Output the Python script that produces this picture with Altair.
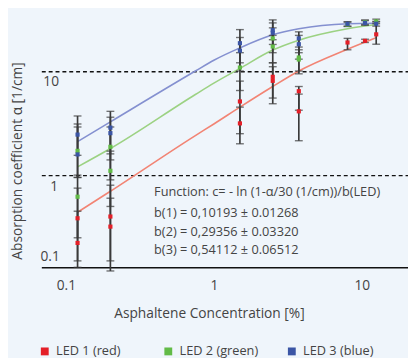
import altair as alt
import pandas as pd

leds = ["LED 1 (red)", "LED 2 (green)", "LED 3 (blue)"]
point_colors = ["#e41f28", "#62bb47", "#3b55a5"]
line_colors = ["#f28474", "#9cd283", "#8490d0"]

# measured points (concentration %, absorption coefficient 1/cm, error bar low/high)
red_conc = [0.12, 0.12, 0.2, 0.2, 1.5, 1.5, 2.5, 2.5, 3.75, 3.75, 8, 10.5, 12.5]
red_alpha = [0.385, 0.223, 0.40, 0.32, 5.1, 3.14, 8.8, 8.05, 6.4, 4.1, 18.8, 19.5, 22.5]
red_low = [0.15, 0.13, 0.15, 0.12, 2.5, 2.0, 5.5, 4.85, 4.2, 2.14, 16.0, 18.8, 18.1]
red_high = [0.75, 0.45, 0.8, 0.6, 8.0, 4.5, 12.0, 11.0, 7.1, 6.0, 20.6, 20.2, 29.6]

green_conc = [0.12, 0.12, 0.2, 0.2, 1.5, 2.5, 2.5, 3.75, 3.75, 8, 10.5, 12.5]
green_alpha = [1.71, 0.62, 1.87, 1.10, 10.8, 20.6, 17.2, 13.5, 12.9, 28.0, 29.4, 30.0]
green_low = [0.95, 0.25, 0.9, 0.5, 6.5, 15.0, 12.0, 9.4, 10.0, 26.8, 28.0, 28.5]
green_high = [2.9, 1.0, 2.9, 1.7, 15.0, 26.0, 22.0, 17.0, 16.0, 29.5, 31.0, 31.5]

blue_conc = [0.12, 0.12, 0.2, 0.2, 1.5, 1.5, 2.5, 2.5, 3.75, 3.75, 8, 10.5, 12.5]
blue_alpha = [2.45, 1.58, 2.86, 2.53, 18.5, 15.7, 24.7, 23.3, 20.6, 18.1, 28.4, 29.0, 28.5]
blue_low = [1.55, 0.95, 1.6, 1.4, 12.0, 10.0, 20.0, 18.0, 15.0, 13.0, 27.0, 27.5, 27.0]
blue_high = [3.7, 3.1, 4.1, 3.6, 25.0, 21.0, 31.0, 29.0, 23.8, 22.0, 29.8, 30.5, 30.0]

# fitted curves
curve_conc = [0.12, 0.2, 0.75, 1, 1.5, 2.5, 3.75, 8, 12.5]
red_fit = [0.44, 0.70, 2.4, 3.1, 4.5, 7.1, 10.0, 16.2, 20.9]
green_fit = [1.2, 1.8, 5.95, 7.65, 10.6, 15.9, 19.8, 25.5, 28.0]
blue_fit = [2.1, 3.25, 10.0, 12.7, 16.7, 22.3, 25.5, 28.5, 28.8]

x_ticks = [0.1, 1, 10]
y_grid = [1, 10]
y_labels = ["10", "1", "0.1"]
y_label_values = [10, 1, 0.13]

annotation_lines = [
    "Function: c= - ln (1-\u03b1/30 (1/cm))/b(LED)",
    "b(1) = 0,10193  \u00b1 0.01268",
    "b(2) = 0,29356 \u00b1 0.03320",
    "b(3) = 0,54112 \u00b1 0.06512",
]
annotation_y = [181, 203, 222, 240]

rows = []
for led, cs, a_s, ls, hs in [
    (leds[0], red_conc, red_alpha, red_low, red_high),
    (leds[1], green_conc, green_alpha, green_low, green_high),
    (leds[2], blue_conc, blue_alpha, blue_low, blue_high),
]:
    for c, a, l, h in zip(cs, a_s, ls, hs):
        rows.append(dict(led=led, conc=c, alpha=a, low=l, high=h))
pts = pd.DataFrame(rows)

crow = []
for led, fit in zip(leds, [red_fit, green_fit, blue_fit]):
    for c, a in zip(curve_conc, fit):
        crow.append(dict(curve=led, conc=c, alpha=a))
curves = pd.DataFrame(crow)

FONT = "Open Sans"
TXT = "#444444"
BAR = "#3a3a3a"

xs = alt.Scale(type="log", domain=[0.0683, 20.5])
ys = alt.Scale(type="log", domain=[0.13, 35])

x_axis = alt.Axis(
    values=x_ticks, format="~g", ticks=False, grid=False,
    domainColor="#111111", domainWidth=1.5,
    labelFontSize=14, labelColor=TXT, labelFont=FONT, labelPadding=12,
    title="Asphaltene Concentration [%]", titleFontSize=14, titleFont=FONT,
    titleFontWeight="normal", titleColor=TXT, titleX=171, titleY=47,
    titleAlign="center", titleBaseline="middle",
)
y_axis = alt.Axis(
    values=y_grid, labels=False, ticks=False, domain=False,
    grid=True, gridColor="#111111", gridDash=[4, 3], gridWidth=1.3,
    title="Absorption coefficient \u03b1 [1/cm]", titleFontSize=14, titleFont=FONT,
    titleFontWeight="normal", titleColor=TXT, titleX=-24, titleY=149,
    titleAngle=270, titleAlign="center", titleBaseline="middle",
)

lines = alt.Chart(curves).mark_line(strokeWidth=1.6, interpolate="monotone").encode(
    x=alt.X("conc:Q", scale=xs, axis=x_axis),
    y=alt.Y("alpha:Q", scale=ys, axis=y_axis),
    color=alt.Color("curve:N", scale=alt.Scale(domain=leds, range=line_colors), legend=None),
)

base = alt.Chart(pts)
bars = base.mark_rule(color=BAR, strokeWidth=1.7).encode(
    x=alt.X("conc:Q", scale=xs), y=alt.Y("low:Q", scale=ys), y2="high:Q"
)
cap_lo = base.mark_tick(color=BAR, thickness=1.4, size=8, orient="horizontal").encode(
    x=alt.X("conc:Q", scale=xs), y=alt.Y("low:Q", scale=ys)
)
cap_hi = base.mark_tick(color=BAR, thickness=1.4, size=8, orient="horizontal").encode(
    x=alt.X("conc:Q", scale=xs), y=alt.Y("high:Q", scale=ys)
)
points = base.mark_square(size=18, opacity=1).encode(
    x=alt.X("conc:Q", scale=xs),
    y=alt.Y("alpha:Q", scale=ys),
    color=alt.Color(
        "led:N",
        scale=alt.Scale(domain=leds, range=point_colors),
        legend=alt.Legend(
            orient="none", legendX=-3, legendY=337, direction="horizontal",
            columns=3, gridAlign="all", columnPadding=27, title=None,
            symbolType="square", symbolSize=64, symbolStrokeWidth=0,
            symbolOpacity=1, labelFontSize=13, labelFont=FONT, labelColor=TXT,
            labelOffset=5, labelLimit=0,
        ),
    ),
)

ylab_df = pd.DataFrame({"lab": y_labels, "v": y_label_values})
ylab_10 = alt.Chart(ylab_df.iloc[[0]]).mark_text(
    align="left", baseline="middle", fontSize=14, font=FONT, color=TXT, dy=11
).encode(x=alt.value(2), y=alt.Y("v:Q", scale=ys), text="lab:N")
ylab_1 = alt.Chart(ylab_df.iloc[[1]]).mark_text(
    align="center", baseline="middle", fontSize=14, font=FONT, color=TXT, dy=12
).encode(x=alt.value(13), y=alt.Y("v:Q", scale=ys), text="lab:N")
ylab_01 = alt.Chart(ylab_df.iloc[[2]]).mark_text(
    align="center", baseline="middle", fontSize=14, font=FONT, color=TXT, dy=-10
).encode(x=alt.value(9), y=alt.Y("v:Q", scale=ys), text="lab:N")

ann_layers = []
for t, yy in zip(annotation_lines, annotation_y):
    ann_layers.append(
        alt.Chart(pd.DataFrame({"t": [t]})).mark_text(
            align="left", baseline="middle", fontSize=13, font=FONT, color=TXT
        ).encode(x=alt.value(115), y=alt.value(yy), text="t:N")
    )

chart = alt.layer(
    lines, bars, cap_lo, cap_hi, points, ylab_10, ylab_1, ylab_01, *ann_layers
).resolve_scale(color="independent").properties(
    width=374, height=258,
    padding={"left": 34, "top": 3, "right": 0, "bottom": 92},
    autosize="none",
    background="#eff5fb",
).configure_view(stroke=None)

chart.save("out.html", embed_options={"renderer": "svg", "actions": False})
